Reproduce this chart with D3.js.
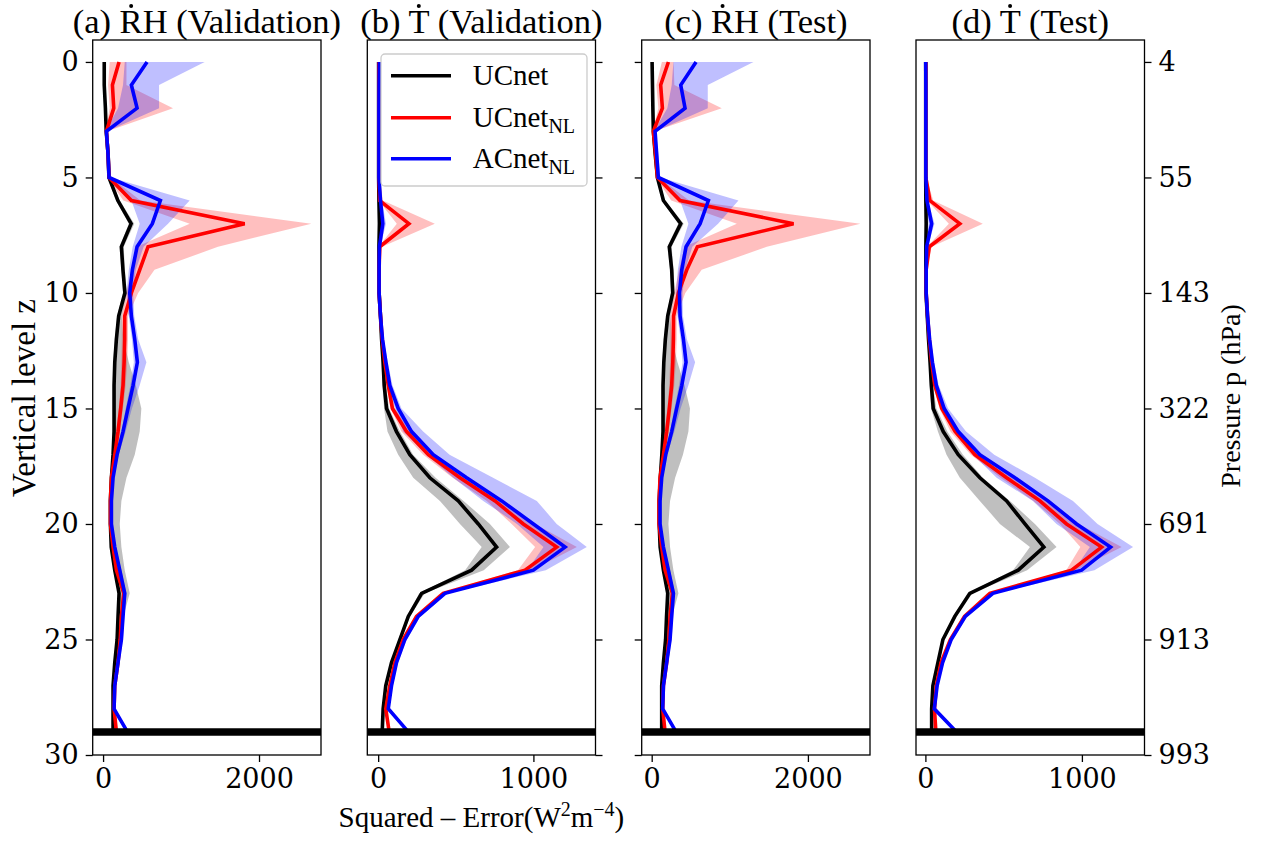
<!DOCTYPE html>
<html>
<head>
<meta charset="utf-8">
<script src="https://cdn.jsdelivr.net/npm/d3@7"></script>
<style>
  body { margin: 0; background: #fff; }
  svg { display: block; }
</style>
</head>
<body>
<svg id="chart" width="1269" height="843"></svg>
<script>
// vertical levels and tick labels
const levelZ = [0,1,2,3,4,5,6,7,8,9,10,11,12,13,14,15,16,17,18,19,20,21,22,23,24,25,26,27,28,29];
const levelTicks = [0, 5, 10, 15, 20, 25, 30];
const pressureLabels = ["4", "55", "143", "322", "691", "913", "993"];
const seriesNames = ["UCnet", "UCnet", "ACnet"];
const seriesSubs = ["", "NL", "NL"];

// (a) RH validation
const rhValUC     = [15,15,30,40,65,75,190,360,235,255,280,200,171,150,141,141,141,128,107,94,94,105,150,205,192,180,150,128,128,128];
const rhValUCLo   = [5,5,18,28,50,58,165,330,210,235,255,180,150,130,125,125,125,115,95,84,84,94,135,190,180,168,138,118,118,118];
const rhValUCHi   = [25,25,42,52,80,92,215,400,265,280,305,240,260,330,420,491,470,406,300,235,214,235,278,342,260,220,180,150,145,145];
const rhValNL     = [205,120,137,43,64,77,363,1816,577,470,363,278,278,270,256,226,192,150,107,94,94,128,171,265,235,220,192,150,141,171];
const rhValNLLo   = [85,64,85,30,45,55,260,1111,430,363,300,240,240,235,225,200,170,135,95,84,84,115,155,245,215,200,175,135,128,155];
const rhValNLHi   = [300,300,897,55,85,100,480,2671,1474,660,450,320,320,310,290,255,215,170,125,105,105,140,190,285,255,240,210,165,155,190];
const rhValAC     = [564,363,436,43,64,77,735,632,436,376,342,363,406,440,385,320,256,180,128,107,107,150,214,278,256,235,192,150,141,312];
const rhValACLo   = [278,256,192,30,45,55,363,470,380,330,300,330,370,395,350,290,235,165,115,95,95,135,195,260,235,215,175,135,128,290];
const rhValACHi   = [1303,718,718,55,85,100,1111,833,520,420,385,400,450,556,470,370,290,200,140,120,120,165,235,300,275,255,210,165,155,335];

// (b) T validation
const tValUC      = [3,3,3,3,3,3,5,8,5,5,6,15,22,32,39,54,118,204,333,516,645,763,602,280,194,140,86,49,32,26];
const tValUCLo    = [1,1,1,1,1,1,2,4,2,2,3,10,15,22,28,38,60,129,226,398,527,667,560,265,185,130,80,45,28,22];
const tValUCHi    = [5,5,5,5,5,5,8,12,8,8,9,20,28,40,50,70,140,225,370,550,720,849,680,300,205,150,95,55,36,30];
const tValNL      = [5,5,4,4,4,5,10,198,10,6,6,15,26,43,65,92,183,323,527,753,935,1150,946,419,247,161,108,75,49,71];
const tValNLLo    = [2,2,2,2,2,2,2,120,3,3,3,10,20,35,55,80,150,290,480,700,860,1011,900,400,235,150,100,68,44,65];
const tValNLHi    = [10,10,8,8,8,10,30,365,25,10,10,20,32,52,78,108,210,360,580,810,1010,1280,990,440,260,172,116,82,55,78];
const tValAC      = [8,6,5,5,5,5,15,30,8,6,6,15,28,50,75,129,215,355,570,796,1000,1204,1000,430,258,172,118,86,65,194];
const tValACLo    = [3,3,2,2,2,2,5,15,3,3,3,10,22,40,62,110,161,312,484,677,894,1065,960,415,245,160,110,80,58,185];
const tValACHi    = [15,12,10,10,10,10,25,50,15,10,10,22,35,62,92,150,290,460,740,1022,1150,1344,1080,450,272,185,128,94,72,203];

// (c) RH test
const rhTestUC    = [5,10,15,21,45,73,150,372,226,256,269,205,175,155,145,145,145,130,110,96,96,108,150,205,190,178,150,128,128,128];
const rhTestUCLo  = [0,2,6,12,35,60,130,340,200,235,250,185,155,135,128,128,128,117,98,86,86,96,135,190,178,166,138,118,118,118];
const rhTestUCHi  = [12,18,25,30,58,88,170,410,255,280,295,240,260,330,420,490,470,400,300,235,214,235,278,342,260,220,180,150,145,145];
const rhTestNL    = [214,115,137,21,50,73,363,1816,585,449,342,280,278,270,256,226,192,150,107,94,94,128,171,265,235,220,192,150,141,171];
const rhTestNLLo  = [130,60,85,12,35,55,250,1090,420,350,290,240,240,235,225,200,170,135,95,84,84,115,155,245,215,200,175,135,128,155];
const rhTestNLHi  = [280,290,897,30,62,92,480,2671,1474,640,430,320,320,310,290,255,215,170,125,105,105,140,190,285,255,240,210,165,155,190];
const rhTestAC    = [568,372,427,43,64,85,726,620,440,385,355,363,406,440,385,320,256,180,128,107,107,150,214,278,256,235,192,150,141,312];
const rhTestACLo  = [278,256,200,30,45,60,363,470,380,335,310,330,370,395,350,290,235,165,115,95,95,135,195,260,235,215,175,135,128,290];
const rhTestACHi  = [1303,718,718,55,85,110,1111,850,520,430,395,400,450,556,470,370,290,200,140,120,120,165,235,300,275,255,210,165,155,335];

// (d) T test
const tTestUC     = [2,2,2,2,2,2,3,5,3,3,4,12,20,30,38,50,114,210,348,519,636,757,593,284,188,112,80,48,40,40];
const tTestUCLo   = [0,0,0,0,0,0,1,2,1,1,2,8,14,22,28,36,80,135,220,348,476,668,560,270,178,104,74,44,36,36];
const tTestUCHi   = [4,4,4,4,4,4,6,8,6,6,7,16,26,38,48,70,140,240,367,540,700,838,650,300,200,122,88,54,45,45];
const tTestNL     = [3,3,3,3,3,3,29,220,25,5,5,14,25,40,60,105,190,316,519,732,902,1126,934,412,250,160,100,70,58,67];
const tTestNLLo   = [1,1,1,1,1,1,10,150,10,2,2,9,19,32,50,90,160,290,480,690,860,990,900,395,238,150,94,65,53,62];
const tTestNLHi   = [6,6,6,6,6,6,50,367,40,8,8,19,31,48,72,122,215,350,570,800,980,1254,960,430,262,170,108,76,63,73];
const tTestAC     = [2,3,3,3,3,3,10,40,8,5,5,14,27,45,70,120,210,348,572,783,966,1183,998,431,255,165,110,75,57,199];
const tTestACLo   = [0,1,1,1,1,1,4,20,3,2,2,9,20,36,58,100,180,304,455,687,838,1051,950,415,242,155,102,69,52,190];
const tTestACHi   = [5,6,6,6,6,6,18,58,14,8,8,19,34,55,85,145,260,440,700,943,1100,1327,1080,450,268,176,118,82,62,208];

const colors = ["#000000", "#ff0000", "#0000ff"];
const serif = "'Liberation Serif', 'Times New Roman', serif";
const tickFont = "'DejaVu Serif', serif";

const svg = d3.select("#chart");
const plotTop = 40, plotBottom = 755;
const y = d3.scaleLinear().domain([-0.95, 30]).range([plotTop, plotBottom]);

const panels = [
  { left: 92.7, right: 321, dom: [-133, 2795], xt: [0, 2000], title: "(a) RH (Validation)", dot: [4, 1],
    yside: "left", ylabels: true,
    s: [[rhValUC, rhValUCLo, rhValUCHi], [rhValNL, rhValNLLo, rhValNLHi], [rhValAC, rhValACLo, rhValACHi]] },
  { left: 367.3, right: 595.5, dom: [-70, 1400], xt: [0, 1000], title: "(b) T (Validation)", dot: [4, 1],
    yside: "right", ylabels: false, legend: true,
    s: [[tValUC, tValUCLo, tValUCHi], [tValNL, tValNLLo, tValNLHi], [tValAC, tValACLo, tValACHi]] },
  { left: 641.7, right: 870, dom: [-128, 2795], xt: [0, 2000], title: "(c) RH (Test)", dot: [4, 1],
    yside: "left", ylabels: false,
    s: [[rhTestUC, rhTestUCLo, rhTestUCHi], [rhTestNL, rhTestNLLo, rhTestNLHi], [rhTestAC, rhTestACLo, rhTestACHi]] },
  { left: 916, right: 1144.5, dom: [-60, 1400], xt: [0, 1000], title: "(d) T (Test)", dot: [4, 1],
    yside: "right", ylabels: true, pressure: true,
    s: [[tTestUC, tTestUCLo, tTestUCHi], [tTestNL, tTestNLLo, tTestNLHi], [tTestAC, tTestACLo, tTestACHi]] }
];

panels.forEach(function (p, pi) {
  const x = d3.scaleLinear().domain(p.dom).range([p.left, p.right]);
  const g = svg.append("g").attr("class", "panel");

  g.append("clipPath").attr("id", "clip" + pi)
    .append("rect").attr("x", p.left).attr("y", plotTop)
    .attr("width", p.right - p.left).attr("height", plotBottom - plotTop);

  const plot = g.append("g").attr("clip-path", "url(#clip" + pi + ")");

  // shaded bands
  p.s.forEach(function (ser, si) {
    const area = d3.area()
      .x0(function (d, i) { return x(ser[1][i]); })
      .x1(function (d, i) { return x(ser[2][i]); })
      .y(function (d) { return y(d); });
    plot.append("path").datum(levelZ)
      .attr("d", area)
      .attr("fill", colors[si])
      .attr("fill-opacity", 0.25)
      .attr("stroke", "none");
  });

  // mean lines
  p.s.forEach(function (ser, si) {
    const line = d3.line()
      .x(function (d, i) { return x(ser[0][i]); })
      .y(function (d) { return y(d); });
    plot.append("path").datum(levelZ)
      .attr("d", line)
      .attr("fill", "none")
      .attr("stroke", colors[si])
      .attr("stroke-width", 3.6)
      .attr("stroke-linejoin", "miter");
  });

  // thick surface line at z = 29
  plot.append("line")
    .attr("x1", p.left).attr("x2", p.right)
    .attr("y1", y(29)).attr("y2", y(29))
    .attr("stroke", "#000").attr("stroke-width", 7.5);

  // bottom axis
  const xa = g.append("g").attr("transform", "translate(0," + plotBottom + ")")
    .call(d3.axisBottom(x).tickValues(p.xt).tickFormat(d3.format("d"))
      .tickSize(7).tickPadding(7).tickSizeOuter(0));
  xa.select(".domain").remove();
  xa.selectAll("line").attr("stroke-width", 1.3);
  xa.selectAll("text").attr("font-family", tickFont).attr("font-size", 27).attr("fill", "#000");

  // vertical axis (left or right side)
  let ya;
  if (p.yside === "left") {
    ya = g.append("g").attr("transform", "translate(" + p.left + ",0)")
      .call(d3.axisLeft(y).tickValues(levelTicks).tickSize(7).tickPadding(7).tickSizeOuter(0));
  } else {
    ya = g.append("g").attr("transform", "translate(" + p.right + ",0)")
      .call(d3.axisRight(y).tickValues(levelTicks).tickSize(7).tickPadding(7).tickSizeOuter(0)
        .tickFormat(function (d, i) { return pressureLabels[i]; }));
  }
  ya.select(".domain").remove();
  ya.selectAll("line").attr("stroke-width", 1.3);
  ya.selectAll("text").attr("font-family", tickFont).attr("font-size", 27).attr("fill", "#000");
  if (!p.ylabels) ya.selectAll("text").remove();

  // frame
  g.append("rect").attr("x", p.left).attr("y", plotTop)
    .attr("width", p.right - p.left).attr("height", plotBottom - plotTop)
    .attr("fill", "none").attr("stroke", "#000").attr("stroke-width", 1.3);

  // title with dot accent
  const cx = (p.left + p.right) / 2;
  const t = g.append("text").attr("x", cx).attr("y", 33)
    .attr("text-anchor", "middle")
    .attr("font-family", serif).attr("font-size", 34.5)
    .text(p.title);
  const node = t.node();
  const total = node.getComputedTextLength();
  const start = cx - total / 2;
  const pre = node.getSubStringLength(0, p.dot[0]);
  const w = node.getSubStringLength(p.dot[0], p.dot[1]);
  g.append("circle").attr("cx", start + pre + w / 2).attr("cy", 6).attr("r", 2).attr("fill", "#000");

  // legend
  if (p.legend) {
    const lg = g.append("g");
    lg.append("rect").attr("x", 381).attr("y", 54).attr("width", 206).attr("height", 132)
      .attr("rx", 4).attr("fill", "#fff").attr("fill-opacity", 0.8)
      .attr("stroke", "#cccccc").attr("stroke-width", 1.3);
    const ly = [75.7, 117.7, 158.7];
    seriesNames.forEach(function (nm, i) {
      lg.append("line").attr("x1", 391).attr("x2", 451).attr("y1", ly[i]).attr("y2", ly[i])
        .attr("stroke", colors[i]).attr("stroke-width", 3.6);
      const lt = lg.append("text").attr("x", 472.7).attr("y", ly[i] + 9.5)
        .attr("font-family", serif).attr("font-size", 29).text(nm);
      if (seriesSubs[i]) {
        lt.append("tspan").attr("font-size", 20).attr("dy", 6).text(seriesSubs[i]);
      }
    });
  }
});

// axis titles
svg.append("text")
  .attr("transform", "translate(24,398) rotate(-90)")
  .attr("text-anchor", "middle").attr("dominant-baseline", "central")
  .attr("font-family", serif).attr("font-size", 33)
  .text("Vertical level z");

svg.append("text")
  .attr("transform", "translate(1230,396) rotate(-90)")
  .attr("text-anchor", "middle").attr("dominant-baseline", "central")
  .attr("font-family", serif).attr("font-size", 28)
  .text("Pressure p (hPa)");

const xl = svg.append("text")
  .attr("x", 481.4).attr("y", 827)
  .attr("text-anchor", "middle")
  .attr("font-family", serif).attr("font-size", 29);
xl.append("tspan").text("Squared \u2013 Error(W");
xl.append("tspan").attr("font-size", 20).attr("dy", -11).text("2");
xl.append("tspan").attr("dy", 11).text("m");
xl.append("tspan").attr("font-size", 20).attr("dy", -11).text("\u22124");
xl.append("tspan").attr("dy", 11).text(")");
</script>
</body>
</html>
